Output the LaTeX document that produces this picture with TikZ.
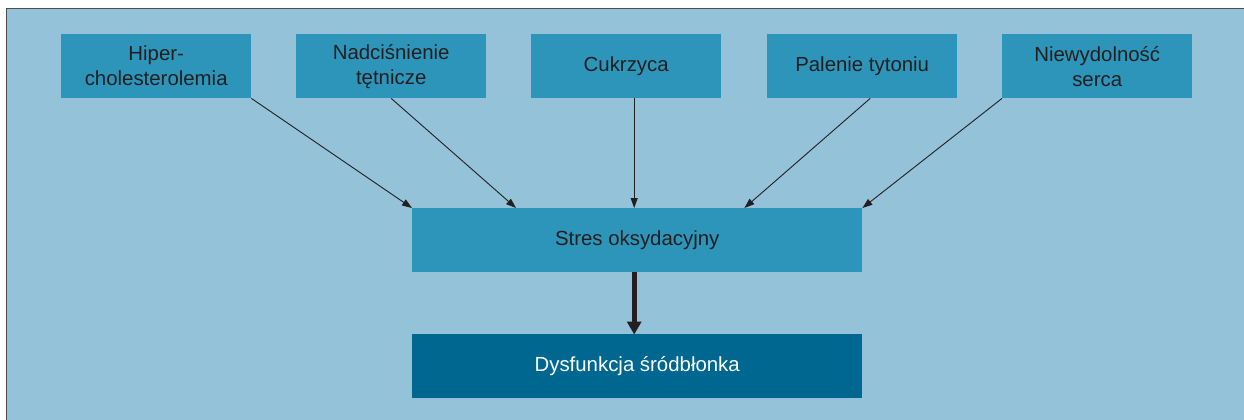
\documentclass[tikz,border=0pt]{standalone}
\usepackage{fontspec}
\setmainfont{Liberation Sans}
\usetikzlibrary{arrows.meta}
\definecolor{bgblue}{HTML}{93C2D9}
\definecolor{boxblue}{HTML}{2E95BA}
\definecolor{darkblue}{HTML}{006890}
\definecolor{txt}{HTML}{231F20}
\tikzset{
  x=1pt,y=-1pt,
  box/.style={fill=boxblue,draw=none,minimum width=190pt,minimum height=64pt,inner sep=0pt,
    align=center,text=txt,font=\fontsize{20.4}{25}\selectfont,anchor=north west},
  wide/.style={box,minimum width=450pt},
  thin/.style={draw=txt,line width=0.9pt,-{Triangle[length=10pt,width=7pt]}},
  thick/.style={draw=txt,line width=5pt,-{Triangle[length=13pt,width=14pt]}}
}
\begin{document}
\begin{tikzpicture}
\useasboundingbox (0,0) rectangle (1244,420);
\fill[white] (0,0) rectangle (1244,420);
\fill[bgblue] (6,8) rectangle (1244,420);
\draw[txt!80,line width=1.5pt] (6.5,420) -- (6.5,8.5) -- (1244,8.5);
\node[box] (a) at (61,34) {Hiper-\\cholesterolemia};
\node[box] (b) at (296,34) {Nadciśnienie\\tętnicze};
\node[box] (c) at (531,34) {Cukrzyca};
\node[box] (d) at (767,34) {Palenie tytoniu};
\node[box] (e) at (1002,34) {Niewydolność\\serca};
\node[wide] (m) at (412,208) {Stres oksydacyjny};
\node[wide,fill=darkblue,text=white] (f) at (412,334) {Dysfunkcja śródbłonka};
\coordinate (m1) at ([xshift=104pt]m.north west);
\coordinate (m2) at ([xshift=-118pt]m.north east);
\coordinate (c1) at ([xshift=8pt]c.south);
\draw[thin] (a.south east) -- (m.north west);
\draw[thin] (b.south) -- (m1);
\draw[thin] (c1) -- (m.north -| c1);
\draw[thin] ([xshift=8pt]d.south) -- (m2);
\draw[thin] (e.south west) -- (m.north east);
\draw[thick] (m.south -| c1) -- ([yshift=-0.5pt]f.north -| c1);
\end{tikzpicture}
\end{document}
